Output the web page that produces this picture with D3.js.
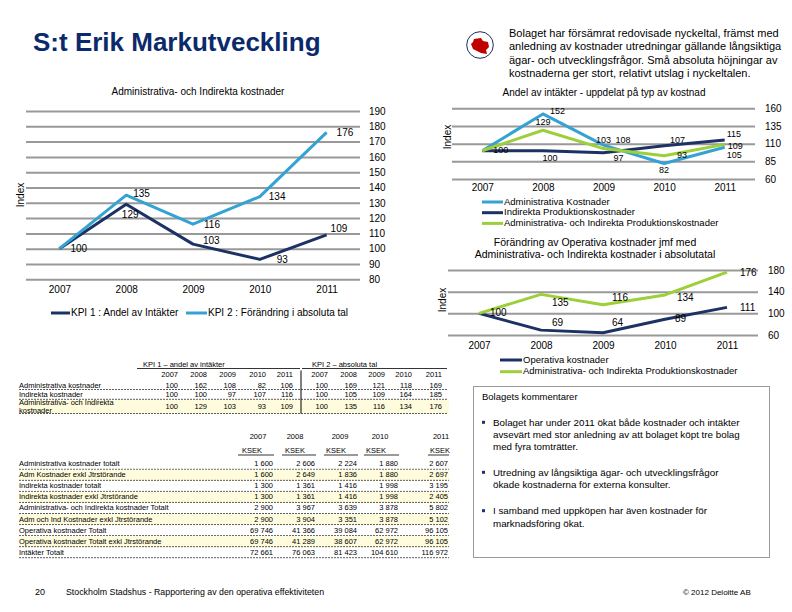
<!DOCTYPE html>
<html><head><meta charset="utf-8">
<script src="https://cdn.jsdelivr.net/npm/d3@7"></script>
<style>
body{margin:0;background:#fff}
svg{font-family:"Liberation Sans",Arial,sans-serif}
</style></head><body>
<svg id="c" width="792" height="612"></svg>
<script>
// ---------- DATA ----------
const years = ["2007","2008","2009","2010","2011"];
// left chart: Administrativa- och Indirekta kostnader
const kpi1Share = [100,129,103,93,109];
const kpi2Abs = [100,135,116,134,176];
const leftTicks = [80,90,100,110,120,130,140,150,160,170,180,190];
// top right chart: Andel av intäkter
const admShare = [100,152,108,82,105];
const indShare = [100,100,97,107,115];
const admIndShare = [100,129,103,93,109];
const trTicks = [60,85,110,135,160];
// bottom right chart: Förändring i absoluta tal
const operAbs = [100,69,64,89,111];
const admIndAbs = [100,135,116,134,176];
const brTicks = [60,100,140,180];
// KPI table
const kpiRowLabels = [["Administrativa kostnader"],["Indirekta kostnader"],["Administrativa- och Indirekta","kostnader"]];
const kpi1Table = [[100,162,108,82,106],[100,100,97,107,116],[100,129,103,93,109]];
const kpi2Table = [[100,169,121,118,169],[100,105,109,164,185],[100,135,116,134,176]];
// KSEK table
const ksekRowLabels = [
  "Administrativa kostnader totalt",
  "Adm Kostnader exkl Jtrstörande",
  "Indirekta kostnader totalt",
  "Indirekta kostnader exkl Jtrstörande",
  "Administrativa- och Indirekta kostnader Totalt",
  "Adm och Ind Kostnader exkl Jtrstörande",
  "Operativa kostnader Totalt",
  "Operativa kostnader Totalt exkl Jtrstörande",
  "Intäkter Totalt"
];
const ksekValues = [
  [1600,2606,2224,1880,2607],
  [1600,2649,1836,1880,2697],
  [1300,1361,1416,1998,3195],
  [1300,1361,1416,1998,2405],
  [2900,3967,3639,3878,5802],
  [2900,3904,3351,3878,5102],
  [69746,41366,39084,62972,96105],
  [69746,41289,38607,62972,96105],
  [72661,76063,81423,104610,116972]
];
const summaryLines = [
  "Bolaget har försämrat redovisade nyckeltal, främst med",
  "anledning av kostnader utredningar gällande långsiktiga",
  "ägar- och utvecklingsfrågor. Små absoluta höjningar av",
  "kostnaderna ger stort, relativt utslag i nyckeltalen."
];
const comments = [
  ["Bolaget har under 2011 ökat både kostnader och intäkter","avsevärt med stor anledning av att bolaget köpt tre bolag","med fyra tomträtter."],
  ["Utredning av långsiktiga ägar- och utvecklingsfrågor","ökade kostnaderna för externa konsulter."],
  ["I samband med uppköpen har även kostnader för","marknadsföring ökat."]
];

// ---------- STYLE ----------
const NAVY="#1D3264", LBLUE="#34A3D4", GREEN="#9CCF3A", GRID="#999999", YELLOW="#FEFCDC";
const svg = d3.select("#c");
function text(g,x,y,s,size,o={}){
  const t=g.append("text").attr("x",x).attr("y",y).attr("font-size",size)
    .attr("fill",o.fill||"#000").attr("text-anchor",o.anchor||"start")
    .attr("dominant-baseline","middle").text(s);
  if(o.weight) t.attr("font-weight",o.weight);
  if(o.rotate) t.attr("transform",`rotate(-90,${x},${y})`);
  if(o.len) t.attr("textLength",o.len).attr("lengthAdjust","spacing");
  return t;
}

// ---------- HEADER ----------
text(svg,33,44,"S:t Erik Markutveckling",26,{fill:"#0B2A6B",weight:"bold"});
svg.append("circle").attr("cx",480).attr("cy",45).attr("r",13.3).attr("fill","#fff").attr("stroke","#1D2F5A").attr("stroke-width",1);
const blob=[[-6,-6],[1,-7],[3,-4],[8,-3],[9,2],[6,5],[7,9],[1,8],[-3,6],[-7,4],[-9,-1],[-7,-3]];
svg.append("path").attr("d",d3.line().curve(d3.curveLinearClosed)(blob.map(p=>[480+p[0],45+p[1]]))).attr("fill","#C00000");
summaryLines.forEach((l,i)=>text(svg,509,34+i*13.3,l,11));

// ---------- LINE CHART HELPER ----------
function lineChart(o){
  const g=svg.append("g");
  const x=d3.scalePoint().domain(years).range(o.xr).padding(0.5);
  const y=d3.scaleLinear().domain(o.yd).range(o.yr);
  const ax=g.append("g").attr("transform",`translate(${o.xr[1]},0)`)
    .call(d3.axisRight(y).tickValues(o.ticks).tickSize(-(o.xr[1]-o.xr[0])).tickPadding(o.tp));
  ax.select(".domain").remove();
  ax.selectAll(".tick line").attr("stroke",GRID).attr("stroke-width",2);
  ax.selectAll(".tick text").attr("font-size",10).attr("fill","#000").attr("font-family",null);
  const bx=g.append("g").attr("transform",`translate(0,${o.xLabelY})`)
    .call(d3.axisBottom(x).tickSize(0).tickPadding(0));
  bx.select(".domain").remove();
  bx.selectAll(".tick text").attr("font-size",10).attr("fill","#000").attr("font-family",null).attr("dy","-0.2em").attr("dominant-baseline","middle");
  const line=d3.line().x((d,i)=>x(years[i])).y(d=>y(d));
  o.series.forEach(s=>{
    g.append("path").datum(s.values).attr("d",line).attr("fill","none")
      .attr("stroke",s.color).attr("stroke-width",3).attr("stroke-linejoin","round");
  });
  o.series.forEach(s=>{
    g.selectAll(null).data(s.values.map((v,i)=>({v,i,off:s.labels[i]})).filter(d=>d.off))
      .join("text")
      .attr("x",d=>x(years[d.i])+d.off[0]).attr("y",d=>y(d.v)+d.off[1])
      .attr("text-anchor",d=>d.off[2]||"start").attr("dominant-baseline","middle")
      .attr("font-size",o.labelSize||10).attr("fill","#000").text(d=>d.v);
  });
  return g;
}

// ---------- LEFT CHART ----------
text(svg,198,92,"Administrativa- och Indirekta kostnader",10,{anchor:"middle"});
text(svg,21,195,"Index",10,{anchor:"middle",rotate:true});
lineChart({xr:[26,360],yd:[80,190],yr:[279.3,111],ticks:leftTicks,tp:9,xLabelY:292,
  series:[
    {values:kpi1Share,color:NAVY,labels:[[11,1],[4,11,"middle"],[10,-3],[17,1],[4,-6]]},
    {values:kpi2Abs,color:LBLUE,labels:[null,[7,-1],[11,1],[9,1],[10,1]]}
  ]});
svg.append("line").attr("x1",51).attr("x2",70).attr("y1",313).attr("y2",313).attr("stroke",NAVY).attr("stroke-width",3);
text(svg,71,313,"KPI 1 : Andel av Intäkter",10);
svg.append("line").attr("x1",186).attr("x2",207).attr("y1",313).attr("y2",313).attr("stroke",LBLUE).attr("stroke-width",3);
text(svg,208,313,"KPI 2 : Förändring i absoluta tal",10);

// ---------- TOP RIGHT CHART ----------
text(svg,604,93,"Andel av intäkter - uppdelat på typ av kostnad",10,{anchor:"middle"});
text(svg,448,137,"Index",10,{anchor:"middle",rotate:true});
lineChart({xr:[452,755],yd:[60,160],yr:[179,108.3],ticks:trTicks,tp:10,xLabelY:190,labelSize:9,
  series:[
    {values:admShare,color:LBLUE,labels:[null,[7,-2],[12,-4],[0,7,"middle"],[2,8]]},
    {values:indShare,color:NAVY,labels:[[11,0],[7,8,"middle"],[10,6],[6,-5],[2,-5]]},
    {values:admIndShare,color:GREEN,labels:[null,[0,-8,"middle"],[0,-8,"middle"],[13,0],[3,2]]}
  ]});
[["Administrativa Kostnader",LBLUE],["Indirekta Produktionskostnader",NAVY],["Administrativa- och Indirekta Produktionskostnader",GREEN]]
  .forEach((d,i)=>{
    const yy=202+i*10.7;
    svg.append("line").attr("x1",482).attr("x2",503).attr("y1",yy).attr("y2",yy).attr("stroke",d[1]).attr("stroke-width",3);
    text(svg,504,yy,d[0],9.5);
  });

// ---------- BOTTOM RIGHT CHART ----------
text(svg,595,243,"Förändring av Operativa kostnader jmf med",10.5,{anchor:"middle"});
text(svg,595,255,"Administrativa- och Indirekta kostnader i absolutatal",10.5,{anchor:"middle"});
text(svg,443,300,"Index",10,{anchor:"middle",rotate:true});
lineChart({xr:[448,758],yd:[60,180],yr:[335,270],ticks:brTicks,tp:10,xLabelY:348,
  series:[
    {values:operAbs,color:NAVY,labels:[[11,0],[11,-7],[9,-9],[10,0],[13,1]]},
    {values:admIndAbs,color:GREEN,labels:[null,[11,9],[9,-6],[12,3],[13,1]]}
  ]});
[["Operativa kostnader",NAVY],["Administrativa- och Indirekta Produktionskostnader",GREEN]]
  .forEach((d,i)=>{
    const yy=360+i*11.7;
    svg.append("line").attr("x1",500).attr("x2",522).attr("y1",yy).attr("y2",yy).attr("stroke",d[1]).attr("stroke-width",3);
    text(svg,523,yy,d[0],9.5);
  });

// ---------- KPI TABLE ----------
const fmt=d3.formatLocale({thousands:" ",grouping:[3],decimal:",",currency:["",""]}).format(",d");
const TS=7.5;
const kt=svg.append("g");
text(kt,143,365,"KPI 1 – andel av intäkter",TS);
text(kt,312,365,"KPI 2 – absoluta tal",TS);
kt.append("line").attr("x1",137).attr("x2",300).attr("y1",368.5).attr("y2",368.5).attr("stroke","#000").attr("stroke-width",0.8);
kt.append("line").attr("x1",302).attr("x2",447).attr("y1",368.5).attr("y2",368.5).attr("stroke","#000").attr("stroke-width",0.8);
const k1x=[178,207,236,266,293], k2x=[328,357,385,412,442];
years.forEach((yv,i)=>{text(kt,k1x[i],375,yv,TS,{anchor:"end"});text(kt,k2x[i],375,yv,TS,{anchor:"end"});});
kt.append("rect").attr("x",19).attr("y",399.5).attr("width",430).attr("height",14).attr("fill",YELLOW);
const rowY=[385.7,395,407.3], dashY=[389.5,399.3,413.5];
kpiRowLabels.forEach((lab,r)=>{
  if(lab.length===1) text(kt,19,rowY[r],lab[0],TS);
  else lab.forEach((l,j)=>text(kt,19,403.3+j*8,l,TS));
  kpi1Table[r].forEach((v,i)=>text(kt,k1x[i],rowY[r],fmt(v),TS,{anchor:"end"}));
  kpi2Table[r].forEach((v,i)=>text(kt,k2x[i],rowY[r],fmt(v),TS,{anchor:"end"}));
  kt.append("line").attr("x1",19).attr("x2",447).attr("y1",dashY[r]).attr("y2",dashY[r]).attr("stroke","#333").attr("stroke-width",0.8).attr("stroke-dasharray","2,1");
});
kt.append("line").attr("x1",301).attr("x2",301).attr("y1",370.5).attr("y2",413.5).attr("stroke","#000").attr("stroke-width",1);

// ---------- KSEK TABLE ----------
const bt=svg.append("g");
const vx=[273,315,357,398,448], yearCx=[258,295,340,380,441], ksekCx=[252,295,336,376,440];
const ul=[[238,274],[282,316],[324,358],[364,399],[428,449]];
years.forEach((yv,i)=>{
  text(bt,yearCx[i],436.7,yv,TS,{anchor:"middle"});
  text(bt,ksekCx[i],451,"KSEK",TS,{anchor:"middle"});
  bt.append("line").attr("x1",ul[i][0]).attr("x2",ul[i][1]).attr("y1",455).attr("y2",455).attr("stroke","#000").attr("stroke-width",0.8);
});
ksekRowLabels.forEach((lab,r)=>{
  const cy=464.3+r*11.05;
  if(r%2===1) bt.append("rect").attr("x",19).attr("y",cy-5.5).attr("width",430).attr("height",11).attr("fill",YELLOW);
  text(bt,19,cy,lab,TS);
  ksekValues[r].forEach((v,i)=>text(bt,vx[i],cy,fmt(v),TS,{anchor:"end"}));
  bt.append("line").attr("x1",19).attr("x2",449).attr("y1",cy+5).attr("y2",cy+5).attr("stroke","#333").attr("stroke-width",0.8).attr("stroke-dasharray","2,1");
});

// ---------- COMMENTS BOX ----------
svg.append("rect").attr("x",473.5).attr("y",386.5).attr("width",296).attr("height",171).attr("fill","#fff").attr("stroke","#9a9a9a").attr("stroke-width",1);
text(svg,482,397,"Bolagets kommentarer",9.5);
const cStart=[423.3,473.3,511.7];
comments.forEach((lines,b)=>{
  svg.append("rect").attr("x",482).attr("y",cStart[b]-2.5).attr("width",3).attr("height",3).attr("fill",NAVY);
  lines.forEach((l,j)=>text(svg,493,cStart[b]+j*12.3,l,9.8));
});

// ---------- FOOTER ----------
text(svg,35,593,"20",9);
text(svg,66,593,"Stockholm Stadshus - Rapportering av den operativa effektiviteten",8.8);
text(svg,683,593,"© 2012 Deloitte AB",8);
</script>
</body></html>
